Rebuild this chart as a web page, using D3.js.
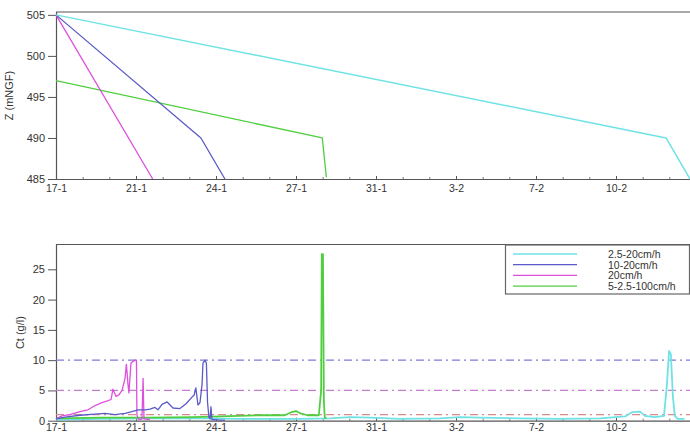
<!DOCTYPE html>
<html>
<head>
<meta charset="utf-8">
<script src="https://cdnjs.cloudflare.com/ajax/libs/d3/7.8.5/d3.min.js"></script>
<style>
  html, body { margin: 0; padding: 0; background: #fff; }
  svg { display: block; font-family: "Liberation Sans", Arial, sans-serif; }
  .tick text { fill: #333; font-size: 11px; }
</style>
</head>
<body>
<svg id="chart" width="690" height="434"></svg>
<script>
// Time axis: days since 17 January
const tickDays = [0, 3.5, 7, 10.5, 14, 17.5, 21, 24.5];
const tickLabels = ["17-1", "21-1", "24-1", "27-1", "31-1", "3-2", "7-2", "10-2"];
const zTicks = [485, 490, 495, 500, 505];
const ctTicks = [0, 5, 10, 15, 20, 25];
const thresholds = [10, 5, 1];

const seriesNames = ["2.5-20cm/h", "10-20cm/h", "20cm/h", "5-2.5-100cm/h"];

// Bed elevation Z (mNGF) over time
const zCyanDays = [0, 26.69, 27.74];
const zCyanVals = [505, 490, 485];
const zBlueDays = [0, 6.34, 7.39];
const zBlueVals = [505, 490, 485];
const zMagentaDays = [0, 4.23];
const zMagentaVals = [505, 485];
const zGreenDays = [0, 11.65, 11.83];
const zGreenVals = [497, 490, 485.2];

// Concentration Ct (g/l) over time
const ctCyanDays = [0, 1.92, 4.11, 6.47, 8.05, 10.67, 11.99, 12.86, 13.74, 15.05, 16.8, 17.67, 18.55, 20.3, 22.05, 23.8, 24.9, 25.2, 25.55, 25.77, 26.2, 26.6, 26.73, 26.82, 26.9, 26.99, 27.07, 27.2, 27.5];
const ctCyanVals = [0.2, 0.3, 0.4, 0.4, 0.3, 0.3, 0.4, 0.6, 0.5, 0.3, 0.4, 0.6, 0.5, 0.4, 0.3, 0.4, 0.7, 1.4, 1.5, 0.8, 0.6, 0.8, 6, 11.5, 11, 4, 0.8, 0.3, 0.3];

const ctBlueDays = [0, 0.39, 1.05, 1.71, 2.14, 2.58, 3.02, 3.32, 3.59, 3.89, 4.11, 4.33, 4.46, 4.64, 4.86, 5.12, 5.42, 5.69, 5.95, 6.04, 6.12, 6.21, 6.3, 6.39, 6.43, 6.52, 6.58, 6.63, 6.69, 6.74, 6.78, 6.82, 7.17, 7.39];
const ctBlueVals = [0.3, 0.6, 0.9, 1.1, 1.2, 1.0, 1.2, 1.5, 1.8, 1.8, 1.9, 2.2, 1.8, 2.7, 3.1, 2.1, 2.0, 2.8, 3.9, 4.2, 5.4, 2.6, 3.0, 6.0, 9.5, 10.0, 9.5, 3.0, 0.6, 0.3, 2.3, 0.2, 0.1, 0.1];

const ctMagentaDays = [0, 0.26, 0.61, 1.05, 1.4, 1.71, 2.01, 2.28, 2.41, 2.49, 2.63, 2.76, 2.89, 3.02, 3.08, 3.15, 3.19, 3.28, 3.37, 3.46, 3.52, 3.54, 3.59, 3.67, 3.76, 3.81, 3.85, 4.11];
const ctMagentaVals = [0.3, 0.8, 1.0, 1.5, 1.8, 2.5, 3.0, 3.3, 3.5, 5.2, 4.0, 4.3, 5.0, 7.0, 9.3, 6.0, 4.6, 9.5, 9.8, 10.0, 10.0, 1.0, 0.3, 0.2, 0.3, 7.0, 0.3, 0.2];

const ctGreenDays = [0, 2, 4, 6, 8, 9, 10, 10.3, 10.5, 10.7, 11, 11.5, 11.6, 11.63, 11.68, 11.72, 11.76, 11.83];
const ctGreenVals = [0.4, 0.5, 0.5, 0.6, 0.8, 0.9, 0.9, 1.4, 1.6, 1.2, 0.9, 0.9, 5, 27.5, 27.5, 3, 0.5, 0.4];

const colors = { cyan: "#6fe2e6", blue: "#5a5ac8", magenta: "#dd4fdd", green: "#4fcf3f" };
const thresholdColors = ["#7c7cdc", "#c67cd0", "#d98a8a"];

const svg = d3.select("#chart");
const left = 56, right = 696;
const axisColor = "#555";

const x = d3.scaleLinear().domain([0, 28]).range([left, right]);
const minorDays = d3.range(0, 28, 3.5 / 3);

const zip = (ds, vs) => ds.map((d, i) => ({ d, v: vs[i] }));

function drawPanel(y, top, bottom, yTicks, yLabel, labelX, labelBaseline) {
  const g = svg.append("g");
  // frame top edge
  g.append("line").attr("x1", left).attr("x2", 690).attr("y1", top).attr("y2", top)
    .attr("stroke", axisColor).attr("stroke-width", 1.2);
  // minor ticks on time axis (drawn inward)
  g.append("g").attr("transform", `translate(0,${bottom})`)
    .call(d3.axisBottom(x).tickValues(minorDays).tickSize(-2).tickFormat(""))
    .call(a => a.select(".domain").remove())
    .selectAll("line").attr("stroke", "#777");
  // major ticks
  const xa = g.append("g").attr("transform", `translate(0,${bottom})`)
    .call(d3.axisBottom(x).tickValues(tickDays).tickSize(-3)
      .tickFormat((d, i) => tickLabels[i]));
  xa.select(".domain").attr("stroke", axisColor).attr("stroke-width", 1.2)
    .attr("d", `M${left},0.5H690`);
  xa.selectAll(".tick line").attr("stroke", axisColor);
  xa.selectAll(".tick text").attr("dy", null).attr("y", labelBaseline)
    .style("font-size", "10.5px");
  // value axis
  const ya = g.append("g").attr("transform", `translate(${left},0)`)
    .call(d3.axisLeft(y).tickValues(yTicks).tickSize(8).tickPadding(3));
  ya.select(".domain").attr("stroke", axisColor).attr("stroke-width", 1.2)
    .attr("d", `M0.5,${top}V${bottom}`);
  ya.selectAll(".tick line").attr("stroke", axisColor);
  g.append("text")
    .attr("transform", `translate(${labelX},${(top + bottom) / 2}) rotate(-90)`)
    .attr("text-anchor", "middle").attr("font-size", 11).attr("fill", "#333")
    .text(yLabel);
  return g;
}

function drawLine(g, y, data, color, width) {
  g.append("path").datum(data)
    .attr("fill", "none").attr("stroke", color).attr("stroke-width", width)
    .attr("stroke-linejoin", "round")
    .attr("d", d3.line().x(p => x(p.d)).y(p => y(p.v)));
}

// Upper panel: elevation
const yZ = d3.scaleLinear().domain([485, 505.35]).range([179, 12]);
const gZ = drawPanel(yZ, 12, 179, zTicks, "Z (mNGF)", 13, 13);
drawLine(gZ, yZ, zip(zGreenDays, zGreenVals), colors.green, 1.3);
drawLine(gZ, yZ, zip(zMagentaDays, zMagentaVals), colors.magenta, 1.3);
drawLine(gZ, yZ, zip(zBlueDays, zBlueVals), colors.blue, 1.3);
drawLine(gZ, yZ, zip(zCyanDays, zCyanVals), colors.cyan, 1.5);

// Lower panel: concentration
const yC = d3.scaleLinear().domain([0, 29.1]).range([420.7, 244.5]);
const gC = drawPanel(yC, 244.5, 420.7, ctTicks, "Ct (g/l)", 24, 10.5);

thresholds.forEach((t, i) => {
  gC.append("line").attr("x1", left).attr("x2", 690)
    .attr("y1", yC(t)).attr("y2", yC(t))
    .attr("stroke", thresholdColors[i]).attr("stroke-width", 1.3)
    .attr("stroke-dasharray", "8,4,2,4");
});

drawLine(gC, yC, zip(ctCyanDays, ctCyanVals), colors.cyan, 1.8);
drawLine(gC, yC, zip(ctGreenDays, ctGreenVals), colors.green, 1.8);
drawLine(gC, yC, zip(ctMagentaDays, ctMagentaVals), colors.magenta, 1.3);
drawLine(gC, yC, zip(ctBlueDays, ctBlueVals), colors.blue, 1.3);

// Legend
const legend = svg.append("g");
legend.append("rect").attr("x", 505.5).attr("y", 245).attr("width", 184).attr("height", 49)
  .attr("fill", "#fff").attr("stroke", "#666").attr("stroke-width", 1.2);
const legendColors = [colors.cyan, colors.blue, colors.magenta, colors.green];
seriesNames.forEach((name, i) => {
  const yy = 254 + i * 10.7;
  legend.append("line").attr("x1", 513).attr("x2", 577).attr("y1", yy).attr("y2", yy)
    .attr("stroke", legendColors[i]).attr("stroke-width", 1.3);
  legend.append("text").attr("x", 608).attr("y", yy + 4)
    .attr("font-size", 10.5).attr("fill", "#333").text(name);
});
</script>
</body>
</html>
